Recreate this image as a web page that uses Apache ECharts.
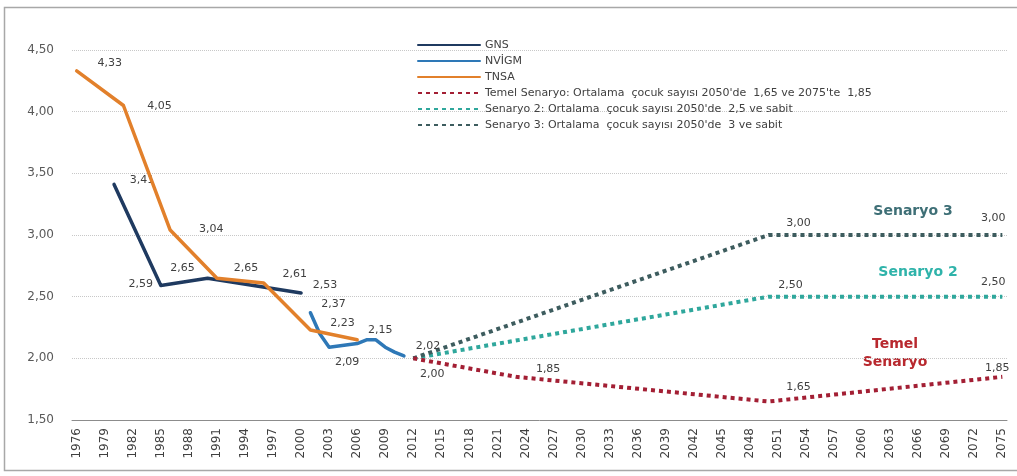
<!DOCTYPE html>
<html>
<head>
<meta charset="utf-8">
<script src="https://cdn.jsdelivr.net/npm/echarts@6/dist/echarts.min.js"></script>
<style>
  html, body { margin: 0; padding: 0; background: #ffffff; }
  #chart { width: 1017px; height: 476px; }
</style>
</head>
<body>
<div id="chart"></div>
<script>
// ---------- DATA ----------
const years = [];
for (let y = 1976; y <= 2075; y++) years.push(String(y));

const gnsYears   = ['1980', '1985', '1990', '2000'];
const gnsValues  = [3.41, 2.59, 2.65, 2.53];

const nvigmYears  = ['2001', '2002', '2003', '2004', '2005', '2006', '2007', '2008', '2009', '2010', '2011'];
const nvigmValues = [2.37, 2.20, 2.09, 2.10, 2.11, 2.12, 2.15, 2.15, 2.09, 2.05, 2.02];

const tnsaYears  = ['1976', '1981', '1986', '1991', '1996', '2001', '2006'];
const tnsaValues = [4.33, 4.05, 3.04, 2.65, 2.61, 2.23, 2.15];

const temelYears  = ['2012', '2023', '2050', '2075'];
const temelValues = [2.00, 1.85, 1.65, 1.85];

const s2Years  = ['2012', '2050', '2075'];
const s2Values = [2.00, 2.50, 2.50];

const s3Years  = ['2012', '2050', '2075'];
const s3Values = [2.00, 3.00, 3.00];

const seriesNames = [
  'GNS',
  'NVİGM',
  'TNSA',
  "Temel Senaryo: Ortalama  çocuk sayısı 2050'de  1,65 ve 2075'te  1,85",
  "Senaryo 2: Ortalama  çocuk sayısı 2050'de  2,5 ve sabit",
  "Senaryo 3: Ortalama  çocuk sayısı 2050'de  3 ve sabit"
];

// ---------- LABEL PLACEMENT (offsets of label centre from point) ----------
const labelOffsets = {
  GNS:   { '1980': [28, -4], '1985': [-20, -1], '1990': [-25, -10], '2000': [24, -8] },
  NVIGM: { '2001': [23, -9], '2003': [18, 15], '2011': [24, -10] },
  TNSA:  { '1976': [33, -8], '1981': [36, 1], '1986': [41, -1], '1991': [29, -10],
           '1996': [31, -9], '2001': [32, -7], '2006': [23, -10] },
  TEMEL: { '2012': [19, 16], '2023': [32, -8], '2050': [30, -14], '2075': [-5, -9] },
  S2:    { '2050': [22, -12], '2075': [-9, -15] },
  S3:    { '2050': [30, -12], '2075': [-9, -17] }
};

const FONT = 'DejaVu Sans';
const fmt = v => v.toFixed(2).replace('.', ',');

function buildData(yrs, vals, key) {
  const offs = labelOffsets[key] || {};
  return yrs.map((y, i) => {
    const item = { value: [y, vals[i]] };
    if (offs[y]) {
      item.label = {
        show: true,
        position: 'inside',
        offset: offs[y],
        formatter: fmt(vals[i]),
        color: '#404040',
        fontSize: 11,
        fontFamily: FONT
      };
    } else {
      item.label = { show: false };
    }
    return item;
  });
}

function lineSeries(name, yrs, vals, key, color, dotted, z) {
  return {
    name: name,
    type: 'line',
    data: buildData(yrs, vals, key),
    symbol: 'circle',
    symbolSize: 1,
    showSymbol: true,
    showAllSymbol: true,
    smooth: false,
    z: z,
    itemStyle: { color: 'rgba(0,0,0,0)' },
    lineStyle: dotted
      ? { color: color, width: 4, type: [4, 4], cap: 'butt' }
      : { color: color, width: 3.5, cap: 'round', join: 'round' },
    emphasis: { disabled: true },
    animation: false
  };
}

const chart = echarts.init(document.getElementById('chart'), null, { renderer: 'canvas' });

const option = {
  backgroundColor: '#ffffff',
  animation: false,
  grid: { left: 72, right: 10, top: 50, bottom: 56, containLabel: false },
  legend: {
    orient: 'vertical',
    left: 412,
    top: 33,
    itemWidth: 62,
    itemHeight: 4,
    itemGap: 2,
    selectedMode: false,
    itemStyle: { opacity: 0 },
    textStyle: { color: '#404040', fontSize: 11, fontFamily: FONT, lineHeight: 14 },
    data: seriesNames
  },
  xAxis: {
    type: 'category',
    data: years,
    boundaryGap: true,
    axisTick: { show: false },
    axisLine: { lineStyle: { color: '#8c8c8c', width: 1 } },
    axisLabel: {
      interval: 2,
      rotate: 90,
      margin: 8,
      color: '#404040',
      fontSize: 12,
      fontFamily: FONT
    },
    splitLine: { show: false }
  },
  yAxis: {
    type: 'value',
    min: 1.5,
    max: 4.5,
    interval: 0.5,
    axisLine: { show: false },
    axisTick: { show: false },
    axisLabel: {
      formatter: v => fmt(v),
      color: '#595959',
      fontSize: 12,
      fontFamily: FONT,
      margin: 18
    },
    splitLine: { lineStyle: { color: '#c8c8c8', type: 'dotted', width: 1 } }
  },
  series: [
    lineSeries(seriesNames[0], gnsYears, gnsValues, 'GNS', '#1f3a60', false, 2),
    lineSeries(seriesNames[1], nvigmYears, nvigmValues, 'NVIGM', '#2e78b7', false, 3),
    lineSeries(seriesNames[2], tnsaYears, tnsaValues, 'TNSA', '#e2802b', false, 4),
    lineSeries(seriesNames[3], temelYears, temelValues, 'TEMEL', '#a31f34', true, 5),
    lineSeries(seriesNames[4], s2Years, s2Values, 'S2', '#2fa79c', true, 3),
    lineSeries(seriesNames[5], s3Years, s3Values, 'S3', '#3d5c5e', true, 3)
  ],
  graphic: [
    {
      type: 'rect',
      silent: true,
      shape: { x: 4.5, y: 7.5, width: 1040, height: 463 },
      style: { fill: 'none', stroke: '#a8a8a8', lineWidth: 1.5 }
    },
    {
      type: 'text', silent: true, x: 913, y: 211,
      style: { text: 'Senaryo 3', fill: '#3e6f76', font: 'bold 14px "DejaVu Sans"', align: 'center', verticalAlign: 'middle' }
    },
    {
      type: 'text', silent: true, x: 918, y: 272,
      style: { text: 'Senaryo 2', fill: '#2fb3aa', font: 'bold 14px "DejaVu Sans"', align: 'center', verticalAlign: 'middle' }
    },
    {
      type: 'text', silent: true, x: 895, y: 344,
      style: { text: 'Temel', fill: '#b8282e', font: 'bold 14px "DejaVu Sans"', align: 'center', verticalAlign: 'middle' }
    },
    {
      type: 'text', silent: true, x: 895, y: 362,
      style: { text: 'Senaryo', fill: '#b8282e', font: 'bold 14px "DejaVu Sans"', align: 'center', verticalAlign: 'middle' }
    }
  ]
};

chart.setOption(option);
</script>
</body>
</html>
